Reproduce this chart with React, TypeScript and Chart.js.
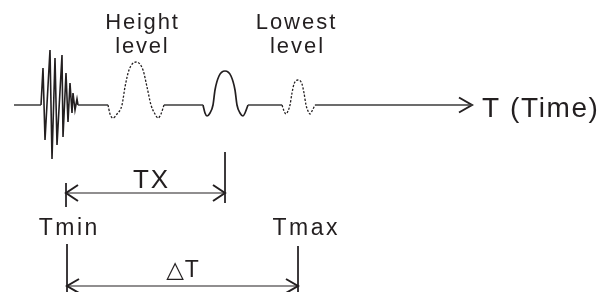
import React, { useEffect, useRef } from "react";
import { Chart, registerables } from "chart.js";

Chart.register(...registerables);

// Time axis (x) and signal amplitude (y, baseline = 0)
const baselineX = [14, 41, 78, 108, 164, 203, 248, 282, 315, 472];
const burstX = [41, 43, 45, 50, 52, 55, 57, 62, 63, 66, 68, 70, 72, 73, 75, 77, 78];
const burstY = [0, 37, -35, 55, -54, 47, -40, 50, -32, 32, -17, 22, -8, 12, -5, 6, 0];
const highWaveX = [108, 110, 113, 117, 122, 125, 129, 136, 143, 147, 151, 155, 158, 161, 164];
const highWaveY = [0, -9, -13, -9, 0, 18, 35, 43, 35, 18, 0, -9, -13, -9, 0];
const echoWaveX = [203, 205, 207, 210, 213, 215, 219, 225, 231, 235, 237, 240, 243, 245, 248];
const echoWaveY = [0, -8, -11, -8, 0, 15, 29, 34, 29, 15, 0, -8, -11, -8, 0];
const lowWaveX = [282, 284, 286, 288, 290, 292, 294, 298, 302, 304, 306, 308, 310, 312, 315];
const lowWaveY = [0, -6, -9, -6, 0, 12, 21, 25, 21, 12, 0, -6, -9, -6, 0];

// Dimension markers (time values)
const tStart = 66;
const tEcho = 225;
const tMin = 67;
const tMax = 298;
const axisEnd = 472;

const labels = ["Height", "level", "Lowest", "level", "T (Time)", "TX", "Tmin", "Tmax", "△T"];
const labelX = [141.5, 141.5, 295.5, 296.5, 482, 150.5, 68, 305, 182.5];
const labelY = [76, 52, 76, 52, -12, -83, -130, -130, -172];
const labelSize = [22, 22, 22, 22, 28, 26, 23, 23, 23];
const labelSpacing = [1.8, 1.8, 2, 2, 1.6, 2, 2.5, 2.5, 1];
const labelAlign = ["center", "center", "center", "center", "left", "center", "center", "center", "center"];

const INK = "#231f20";

const pts = (xs: number[], ys: number[]) => xs.map((x, i) => ({ x, y: ys[i] }));

export default function App() {
  const ref = useRef<HTMLCanvasElement | null>(null);

  useEffect(() => {
    document.body.style.margin = "0";
    const canvas = ref.current;
    if (!canvas) return;

    // baseline with gaps where the wave forms are
    const baseline: any[] = [];
    for (let i = 0; i < baselineX.length; i += 2) {
      baseline.push({ x: baselineX[i], y: 0 });
      baseline.push({ x: baselineX[i + 1], y: 0 });
      if (i + 2 < baselineX.length) baseline.push({ x: (baselineX[i + 1] + baselineX[i + 2]) / 2, y: null });
    }

    const line = (data: any[], extra: any = {}) => ({
      data,
      showLine: true,
      borderColor: INK,
      borderWidth: 1.2,
      pointRadius: 0,
      tension: 0,
      spanGaps: false,
      ...extra,
    });

    const head = (tip: number, y: number, dir: number, len: number, half: number) => [
      { x: tip - dir * len, y: y + half },
      { x: tip, y },
      { x: tip - dir * len, y: y - half },
    ];

    const yTX = -88;
    const yDT = -181;

    const datasets = [
      line(baseline, { borderColor: "#3d3d3d", borderWidth: 1.7 }),
      line(pts(burstX, burstY), { borderWidth: 1.6 }),
      line(pts(highWaveX, highWaveY), { cubicInterpolationMode: "monotone", borderDash: [2.2, 1.6], borderWidth: 1.3 }),
      line(pts(echoWaveX, echoWaveY), { cubicInterpolationMode: "monotone", borderWidth: 1.7 }),
      line(pts(lowWaveX, lowWaveY), { cubicInterpolationMode: "monotone", borderDash: [2.2, 1.6], borderWidth: 1.3 }),
      line(head(axisEnd, 0, 1, 13, 7.5), { borderWidth: 2 }),
      // TX dimension
      line([{ x: tEcho, y: -47 }, { x: tEcho, y: -98 }], { borderWidth: 1 }),
      line([{ x: tStart, y: -78 }, { x: tStart, y: -102 }], { borderWidth: 1 }),
      line([{ x: tStart, y: yTX }, { x: tEcho, y: yTX }], { borderWidth: 1.2 }),
      line(head(tStart, yTX, -1, 12, 8), { borderWidth: 2 }),
      line(head(tEcho, yTX, 1, 12, 8), { borderWidth: 2 }),
      // ΔT dimension
      line([{ x: tMin, y: -139 }, { x: tMin, y: -190 }], { borderWidth: 1 }),
      line([{ x: tMax, y: -141 }, { x: tMax, y: -190 }], { borderWidth: 1 }),
      line([{ x: tMin, y: yDT }, { x: tMax, y: yDT }], { borderWidth: 1.2 }),
      line(head(tMin, yDT, -1, 12, 7), { borderWidth: 2 }),
      line(head(tMax, yDT, 1, 12, 7), { borderWidth: 2 }),
    ];

    const textPlugin = {
      id: "labels",
      afterDatasetsDraw(chart: any) {
        const ctx = chart.ctx;
        const xs = chart.scales.x;
        const ys = chart.scales.y;
        ctx.save();
        ctx.fillStyle = INK;
        ctx.textBaseline = "alphabetic";
        labels.forEach((t, i) => {
          ctx.font = `${labelSize[i]}px "Liberation Sans", Arial, "DejaVu Sans", sans-serif`;
          (ctx as any).letterSpacing = `${labelSpacing[i]}px`;
          ctx.textAlign = labelAlign[i] as CanvasTextAlign;
          const dx = labelAlign[i] === "center" ? labelSpacing[i] / 2 : 0;
          ctx.fillText(t, xs.getPixelForValue(labelX[i]) + dx, ys.getPixelForValue(labelY[i]));
        });
        ctx.restore();
      },
    };

    const chart = new Chart(canvas, {
      type: "scatter",
      data: { datasets: datasets as any },
      options: {
        animation: false,
        responsive: false,
        devicePixelRatio: 1,
        layout: { padding: 0 },
        scales: {
          x: { type: "linear", min: 0, max: 608, display: false },
          y: { type: "linear", min: -187, max: 105, display: false },
        },
        plugins: { legend: { display: false }, tooltip: { enabled: false }, title: { display: false } },
        elements: { line: { borderCapStyle: "butt", borderJoinStyle: "miter" } },
      },
      plugins: [textPlugin],
    });
    return () => chart.destroy();
  }, []);

  return (
    <div style={{ position: "fixed", left: 0, top: 0, width: 608, height: 292, background: "#fff" }}>
      <canvas ref={ref} width={608} height={292} style={{ display: "block", width: 608, height: 292 }} />
    </div>
  );
}
